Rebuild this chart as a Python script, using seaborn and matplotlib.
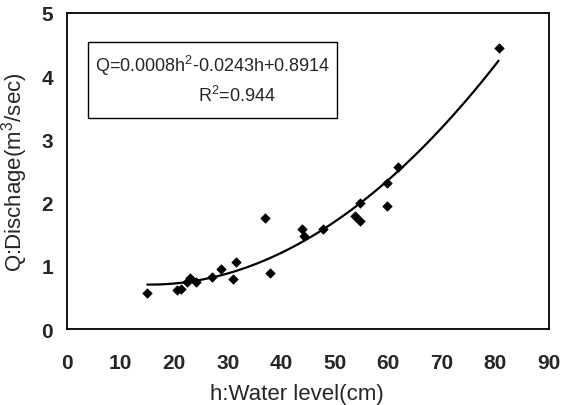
import numpy as np
import pandas as pd
import seaborn as sns
import matplotlib
matplotlib.use("Agg")
import matplotlib.pyplot as plt
from matplotlib.patches import Rectangle

# water level (cm) and discharge (m3/sec)
water_level = [15.0, 20.5, 21.3, 22.5, 22.9, 24.1, 27.0, 28.8, 31.0, 31.5,
               36.9, 38.0, 43.8, 44.3, 47.9, 53.7, 54.8, 54.8, 59.8, 59.8,
               61.8, 80.6]
discharge = [0.57, 0.62, 0.63, 0.75, 0.81, 0.74, 0.83, 0.95, 0.79, 1.06,
             1.76, 0.89, 1.58, 1.47, 1.59, 1.78, 1.71, 2.00, 1.94, 2.31,
             2.57, 4.45]
x_ticks = [0, 10, 20, 30, 40, 50, 60, 70, 80, 90]
y_ticks = [0, 1, 2, 3, 4, 5]
eq_text = "Q=0.0008h$^2$-0.0243h+0.8914"
r2_text = "R$^2$=0.944"

df = pd.DataFrame({"h": water_level, "Q": discharge})

sns.set_style("white")
plt.rcParams["font.family"] = ["Liberation Sans", "DejaVu Sans"]
plt.rcParams["mathtext.fontset"] = "custom"
plt.rcParams["mathtext.rm"] = "Liberation Sans"

fig = plt.figure(figsize=(5.63, 4.06), dpi=100)
ax = fig.add_axes([0.119, 0.187, 0.856, 0.779])

# quadratic trend line fitted by seaborn
sns.regplot(data=df, x="h", y="Q", order=2, ci=None, truncate=True,
            scatter=False, color="black", line_kws={"lw": 1.6}, ax=ax)
sns.scatterplot(data=df, x="h", y="Q", marker="D", s=24, color="black",
                edgecolor="black", ax=ax, zorder=3)

ax.set_xlim(0, 90)
ax.set_ylim(0, 5)
ax.set_xticks(x_ticks)
ax.set_yticks(y_ticks)
ax.tick_params(direction="in", length=4, width=1, labelsize=15)
ax.tick_params(axis="x", pad=17)
ax.tick_params(axis="y", pad=10)
for lab in ax.get_xticklabels() + ax.get_yticklabels():
    lab.set_fontweight("bold")
ax.set_xlabel("h:Water level(cm)", fontsize=16, labelpad=8, x=0.477)
ax.set_ylabel("Q:Dischage(m$^3$/sec)", fontsize=16, labelpad=8)
for sp in ax.spines.values():
    sp.set_color("black")
    sp.set_linewidth(1.3)

# equation box
ax.add_patch(Rectangle((0.044, 0.668), 0.516, 0.240, transform=ax.transAxes,
                       facecolor="white", edgecolor="black", lw=1, zorder=4))
ax.text(0.302, 0.835, eq_text, transform=ax.transAxes, ha="center",
        va="center", fontsize=13, zorder=5)
ax.text(0.352, 0.740, r2_text, transform=ax.transAxes, ha="center",
        va="center", fontsize=13, zorder=5)

fig.savefig("out.png", dpi=100)
